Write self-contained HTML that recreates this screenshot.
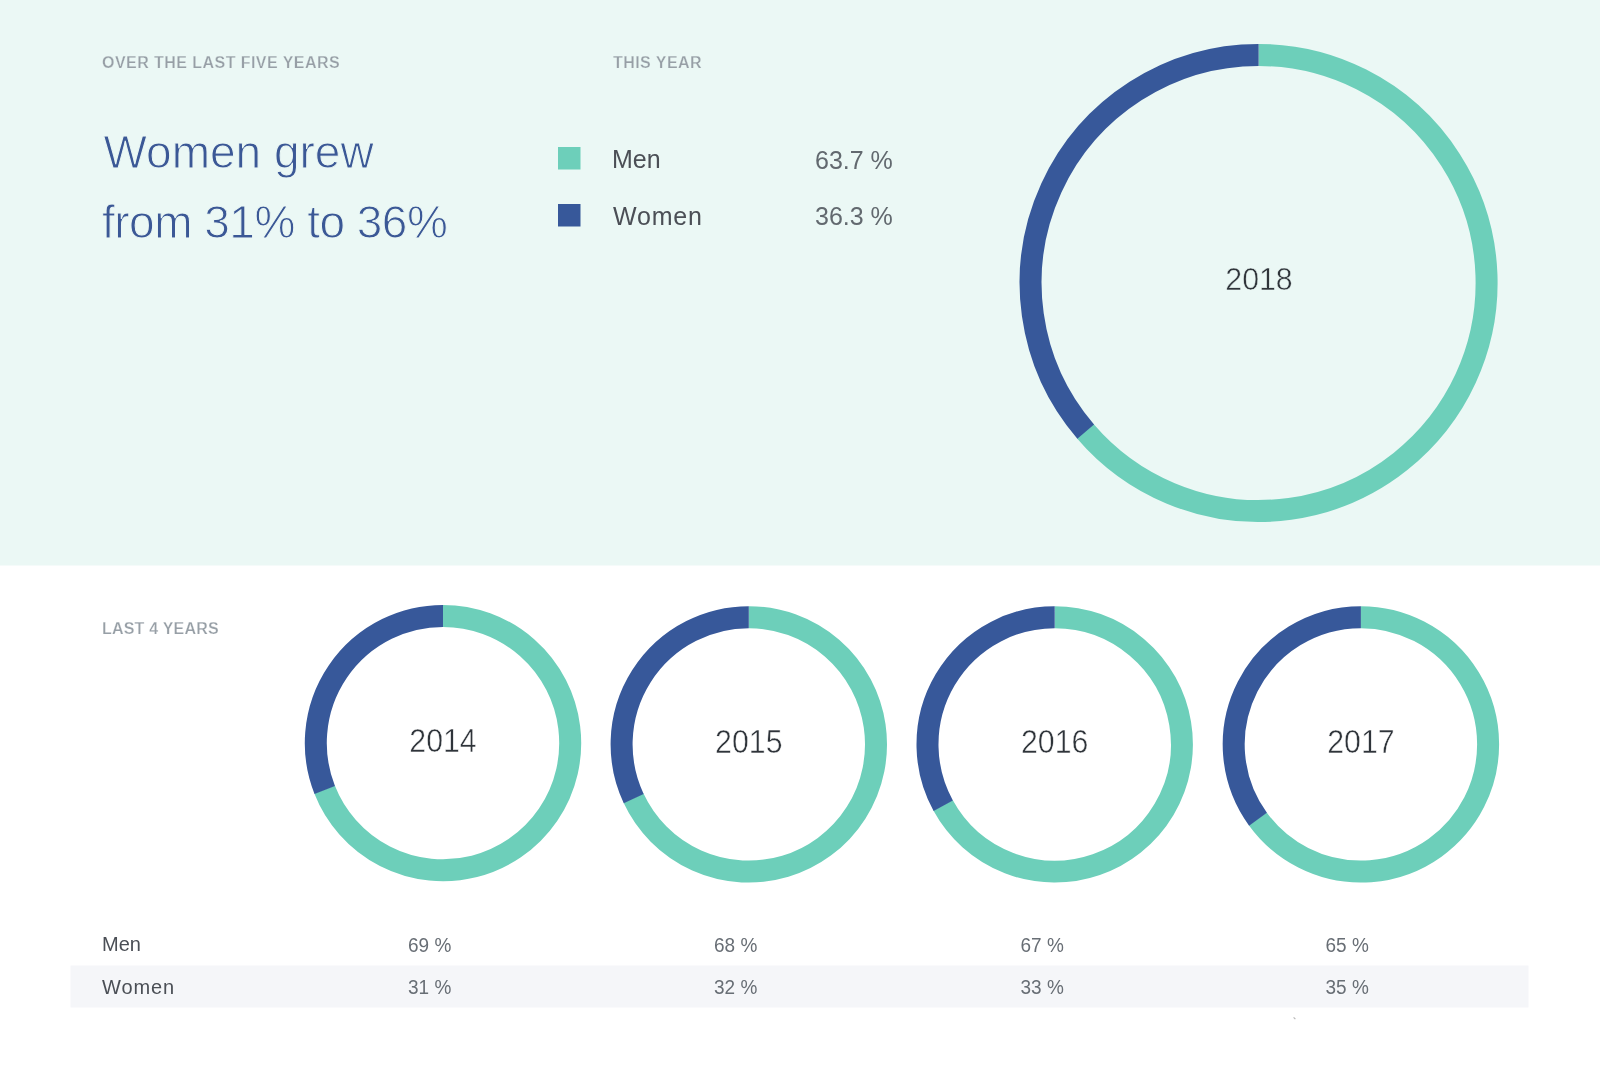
<!DOCTYPE html>
<html><head><meta charset="utf-8"><style>
html,body{margin:0;padding:0;}
body{width:1600px;height:1076px;overflow:hidden;background:#fff;font-family:"Liberation Sans",sans-serif;}
svg{display:block;position:absolute;left:0;top:0;will-change:transform;}
text{font-family:"Liberation Sans",sans-serif;}
.lbl{font-size:16px;font-weight:bold;fill:#979fa6;letter-spacing:0.45px;stroke:#ebf8f5;stroke-width:0.25px;}
.hd{font-size:46px;fill:#3b5896;stroke:#ebf8f5;stroke-width:1.0px;}
.lg{font-size:25px;fill:#4b4f56;}
.lp{font-size:25px;fill:#62696f;}
.yr{font-size:30px;fill:#2f343a;stroke:#fff;stroke-width:0.5px;}
.tl{font-size:20px;fill:#4b4f56;}
.tp{font-size:19px;fill:#686e75;}
</style></head><body>
<svg width="1600" height="1076" viewBox="0 0 1600 1076">
<rect x="0" y="0" width="1600" height="565.5" fill="#ebf8f5"/>
<rect x="70.5" y="965.5" width="1458" height="42" fill="#f5f6f9"/>
<text x="102" y="67.75" class="lbl">OVER THE LAST FIVE YEARS</text>
<text x="613" y="67.75" class="lbl">THIS YEAR</text>
<text x="103.5" y="168" class="hd">Women grew</text>
<text x="102" y="238" class="hd" style="letter-spacing:-0.5px">from 31% to 36%</text>
<rect x="558" y="147" width="22.5" height="22.5" fill="#6dcfba"/>
<rect x="558" y="204" width="22.5" height="22.5" fill="#37589a"/>
<text x="612" y="168.3" class="lg">Men</text>
<text x="613" y="224.5" class="lg" style="letter-spacing:0.8px">Women</text>
<text x="815" y="168.5" class="lp">63.7 %</text>
<text x="815" y="225" class="lp">36.3 %</text>
<text transform="translate(1259,289.8) scale(1.01,1.04)" x="0" y="0" class="yr" text-anchor="middle" style="stroke:#ebf8f5">2018</text>
<text x="102" y="634" class="lbl" style="letter-spacing:0.2px;stroke:#fff">LAST 4 YEARS</text>
<text x="102" y="951.3" class="tl">Men</text>
<text x="102" y="993.6" class="tl" style="letter-spacing:0.9px">Women</text>
<text transform="translate(408,951.5) scale(1,1.1)" x="0" y="0" class="tp">69 %</text>
<text transform="translate(714,951.5) scale(1,1.1)" x="0" y="0" class="tp">68 %</text>
<text transform="translate(1020.5,951.5) scale(1,1.1)" x="0" y="0" class="tp">67 %</text>
<text transform="translate(1325.5,951.5) scale(1,1.1)" x="0" y="0" class="tp">65 %</text>
<text transform="translate(408,993.6) scale(1,1.1)" x="0" y="0" class="tp">31 %</text>
<text transform="translate(714,993.6) scale(1,1.1)" x="0" y="0" class="tp">32 %</text>
<text transform="translate(1020.5,993.6) scale(1,1.1)" x="0" y="0" class="tp">33 %</text>
<text transform="translate(1325.5,993.6) scale(1,1.1)" x="0" y="0" class="tp">35 %</text>
<path d="M1085.227,431.074 A228,228 0 1 0 1258.600,55.000" fill="none" stroke="#6dcfba" stroke-width="22"/><path d="M1258.600,55.000 A228,228 0 0 0 1085.693,431.618" fill="none" stroke="#37589a" stroke-width="22"/>
<path d="M324.586,789.554 A127.2,127.2 0 1 0 443.000,615.900" fill="none" stroke="#6dcfba" stroke-width="22"/><path d="M443.000,615.900 A127.2,127.2 0 0 0 324.732,789.925" fill="none" stroke="#37589a" stroke-width="22"/>
<text transform="translate(443,751.6) scale(1.01,1.08)" x="0" y="0" class="yr" text-anchor="middle">2014</text>
<path d="M633.536,798.197 A127.2,127.2 0 1 0 748.800,617.200" fill="none" stroke="#6dcfba" stroke-width="22"/><path d="M748.800,617.200 A127.2,127.2 0 0 0 633.706,798.559" fill="none" stroke="#37589a" stroke-width="22"/>
<text transform="translate(748.8,752.9) scale(1.01,1.08)" x="0" y="0" class="yr" text-anchor="middle">2015</text>
<path d="M943.042,805.329 A127.2,127.2 0 1 0 1054.700,617.200" fill="none" stroke="#6dcfba" stroke-width="22"/><path d="M1054.700,617.200 A127.2,127.2 0 0 0 943.234,805.679" fill="none" stroke="#37589a" stroke-width="22"/>
<text transform="translate(1054.7,752.9) scale(1.01,1.08)" x="0" y="0" class="yr" text-anchor="middle">2016</text>
<path d="M1257.759,818.843 A127.2,127.2 0 1 0 1360.900,617.200" fill="none" stroke="#6dcfba" stroke-width="22"/><path d="M1360.900,617.200 A127.2,127.2 0 0 0 1257.993,819.166" fill="none" stroke="#37589a" stroke-width="22"/>
<text transform="translate(1360.9,752.9) scale(1.01,1.08)" x="0" y="0" class="yr" text-anchor="middle">2017</text>
<path d="M1293.6,1017.4 L1295.4,1019.2" stroke="#b8b8b8" stroke-width="1.2"/>
</svg>
</body></html>
